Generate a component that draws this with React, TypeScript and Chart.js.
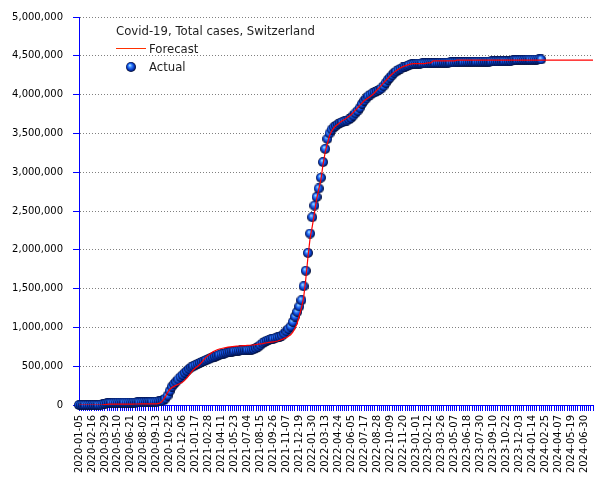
import React, { useEffect, useRef } from 'react';
import { Chart, registerables } from 'chart.js';

Chart.register(...registerables);

const TITLE = 'Covid-19, Total cases, Switzerland';
const SERIES_NAMES = ['Forecast', 'Actual'];

const START_DATE = '2020-01-05';
const WEEK_COUNT = 239;

const TICK_LABELS = [
  '2020-01-05', '2020-02-16', '2020-03-29', '2020-05-10', '2020-06-21', '2020-08-02', '2020-09-13', '2020-10-25',
  '2020-12-06', '2021-01-17', '2021-02-28', '2021-04-11', '2021-05-23', '2021-07-04', '2021-08-15', '2021-09-26',
  '2021-11-07', '2021-12-19', '2022-01-30', '2022-03-13', '2022-04-24', '2022-06-05', '2022-07-17', '2022-08-28',
  '2022-10-09', '2022-11-20', '2023-01-01', '2023-02-12', '2023-03-26', '2023-05-07', '2023-06-18', '2023-07-30',
  '2023-09-10', '2023-10-22', '2023-12-03', '2024-01-14', '2024-02-25', '2024-04-07', '2024-05-19', '2024-06-30',
];

const Y_MIN = 0;
const Y_MAX = 5000000;
const Y_STEP = 500000;

// weekly actual totals, from 2020-01-05
const ACTUAL = [
  0, 0, 0, 0, 0, 0, 0, 0, 0, 300,
  2200, 8000, 15000, 21000, 25000, 27000, 28500, 29500, 30000, 30300,
  30500, 30700, 30900, 31100, 31300, 31600, 32200, 32900, 33800, 34800,
  35900, 37000, 38300, 39500, 40800, 42400, 44000, 46500, 50000, 58000,
  83000, 120000, 180000, 236000, 270000, 300000, 330000, 360000, 386000, 415000,
  440000, 465000, 485000, 500000, 515000, 530000, 543000, 556000, 567000, 578000,
  590000, 602000, 614000, 625000, 636000, 646000, 655000, 663000, 670000, 677000,
  683000, 689000, 694000, 698000, 701000, 703000, 705000, 706000, 708000, 710000,
  713000, 720000, 733000, 750000, 772000, 795000, 815000, 830000, 840000, 848000,
  855000, 862000, 870000, 880000, 895000, 920000, 950000, 980000, 1010000, 1070000,
  1140000, 1200000, 1270000, 1350000, 1530000, 1730000, 1960000, 2210000, 2420000, 2570000,
  2680000, 2790000, 2930000, 3130000, 3300000, 3430000, 3500000, 3550000, 3580000, 3600000,
  3620000, 3635000, 3645000, 3655000, 3665000, 3680000, 3700000, 3730000, 3760000, 3790000,
  3830000, 3880000, 3920000, 3950000, 3980000, 4000000, 4020000, 4030000, 4045000, 4060000,
  4080000, 4110000, 4150000, 4190000, 4220000, 4250000, 4280000, 4300000, 4320000, 4335000,
  4350000, 4360000, 4370000, 4380000, 4390000, 4395000, 4398000, 4400000, 4400000, 4401000,
  4402000, 4403000, 4404000, 4405000, 4406000, 4407000, 4408000, 4409000, 4410000, 4411000,
  4412000, 4413000, 4414000, 4415000, 4416000, 4418000, 4419000, 4420000, 4420000, 4421000,
  4421000, 4422000, 4422000, 4423000, 4423000, 4424000, 4424000, 4425000, 4425000, 4426000,
  4426000, 4427000, 4427000, 4428000, 4428000, 4429000, 4429000, 4430000, 4430000, 4431000,
  4432000, 4440000, 4443000, 4445000, 4446000, 4447000, 4448000, 4449000, 4450000, 4450000,
  4451000, 4452000, 4452000, 4453000, 4453000,
];

// weekly forecast totals, from 2020-01-05
const FORECAST = [
  0, 0, 0, 0, 0, 0, 0, 0, 0, 0,
  0, 2000, 5000, 8000, 10000, 10000, 10500, 10500, 11000, 11000,
  11500, 11500, 12000, 12000, 12500, 12500, 13000, 13000, 13500, 13500,
  14000, 14000, 14500, 14500, 15000, 15000, 15000, 20000, 35000, 65000,
  107000, 160000, 200000, 225000, 240000, 255000, 268000, 280000, 295000, 320000,
  350000, 385000, 420000, 455000, 480000, 500000, 525000, 555000, 590000, 620000,
  645000, 665000, 685000, 700000, 712000, 722000, 728000, 735000, 740000, 745000,
  750000, 753000, 756000, 758000, 760000, 762000, 764000, 766000, 768000, 770000,
  773000, 776000, 780000, 784000, 788000, 792000, 797000, 802000, 806000, 810000,
  814000, 818000, 825000, 835000, 845000, 858000, 870000, 885000, 905000, 940000,
  990000, 1050000, 1150000, 1250000, 1380000, 1620000, 1900000, 2150000, 2300000, 2470000,
  2650000, 2780000, 2900000, 3100000, 3260000, 3370000, 3470000, 3530000, 3570000, 3600000,
  3620000, 3645000, 3665000, 3680000, 3700000, 3720000, 3740000, 3770000, 3800000, 3830000,
  3860000, 3890000, 3920000, 3940000, 3960000, 3980000, 4000000, 4030000, 4060000, 4090000,
  4120000, 4150000, 4180000, 4210000, 4240000, 4265000, 4290000, 4310000, 4330000, 4345000,
  4360000, 4370000, 4380000, 4390000, 4395000, 4400000, 4400000, 4400000, 4400000, 4400000,
  4400000, 4405000, 4410000, 4410000, 4435000, 4435000, 4435000, 4435000, 4435000, 4435000,
  4435000, 4435000, 4435000, 4435000, 4435000, 4445000, 4445000, 4445000, 4445000, 4445000,
  4445000, 4445000, 4445000, 4445000, 4445000, 4445000, 4445000, 4445000, 4445000, 4445000,
  4445000, 4445000, 4445000, 4445000, 4445000, 4445000, 4445000, 4445000, 4445000, 4445000,
  4445000, 4445000, 4445000, 4445000, 4445000, 4445000, 4445000, 4445000, 4445000, 4445000,
  4445000, 4445000, 4445000, 4445000, 4445000, 4445000, 4445000, 4445000, 4445000, 4445000,
  4445000, 4445000, 4445000, 4445000, 4445000, 4445000, 4445000, 4445000, 4445000, 4445000,
  4445000, 4445000, 4445000, 4445000, 4445000, 4445000, 4445000, 4445000, 4445000,
];

function weeklyCategories(): string[] {
  const [y, m, d] = START_DATE.split('-').map(Number);
  const t0 = Date.UTC(y, m - 1, d);
  const out: string[] = [];
  for (let i = 0; i < WEEK_COUNT; i++) {
    out.push(new Date(t0 + i * 7 * 86400000).toISOString().slice(0, 10));
  }
  return out;
}

function makeSphere(size: number): HTMLCanvasElement {
  const c = document.createElement('canvas');
  c.width = size;
  c.height = size;
  const g = c.getContext('2d')!;
  const grad = g.createRadialGradient(size * 0.38, size * 0.32, 0.3, size / 2, size / 2, size / 2);
  grad.addColorStop(0, '#a8e4ff');
  grad.addColorStop(0.3, '#3a86ff');
  grad.addColorStop(0.62, '#0c44d0');
  grad.addColorStop(0.85, '#03207a');
  grad.addColorStop(1, '#000418');
  g.fillStyle = grad;
  g.beginPath();
  g.arc(size / 2, size / 2, size / 2, 0, Math.PI * 2);
  g.fill();
  return c;
}

const FONT = '"DejaVu Sans", sans-serif';

export default function App() {
  const canvasRef = useRef<HTMLCanvasElement | null>(null);

  useEffect(() => {
    const canvas = canvasRef.current;
    if (!canvas) return;
    const categories = weeklyCategories();
    const tickSet = new Set(TICK_LABELS);
    const sphere = makeSphere(10);

    const legendPlugin = {
      id: 'insideLegend',
      afterDraw(chart: any) {
        const ctx = chart.ctx as CanvasRenderingContext2D;
        ctx.save();
        ctx.font = `11.7px ${FONT}`;
        ctx.fillStyle = '#1e1e1e';
        ctx.textAlign = 'left';
        ctx.textBaseline = 'alphabetic';
        ctx.fillText(TITLE, 116, 34.5);
        ctx.strokeStyle = '#ff3000';
        ctx.lineWidth = 1;
        ctx.beginPath();
        ctx.moveTo(116, 48.5);
        ctx.lineTo(146, 48.5);
        ctx.stroke();
        ctx.fillText(SERIES_NAMES[0], 149, 52.7);
        ctx.drawImage(sphere, 131 - sphere.width / 2, 67 - sphere.height / 2);
        ctx.fillText(SERIES_NAMES[1], 149, 71);
        ctx.restore();
      },
    };

    const chart = new Chart(canvas, {
      type: 'line',
      data: {
        labels: categories,
        datasets: [
          {
            label: SERIES_NAMES[0],
            data: FORECAST,
            borderColor: '#ff0000',
            borderWidth: 1.2,
            pointRadius: 0,
            fill: false,
            tension: 0,
            order: 0,
          },
          {
            label: SERIES_NAMES[1],
            data: ACTUAL,
            showLine: false,
            pointStyle: sphere as any,
            pointRadius: 5,
            order: 1,
            clip: false as any,
          },
        ],
      },
      options: {
        responsive: false,
        animation: false,
        events: [],
        layout: { autoPadding: false, padding: { top: 17, right: 12, left: 0, bottom: 0 } },
        plugins: {
          legend: { display: false },
          title: { display: false },
          tooltip: { enabled: false },
        },
        scales: {
          x: {
            type: 'category',
            offset: false,
            grid: {
              display: true,
              drawOnChartArea: false,
              drawTicks: true,
              tickLength: 6,
              color: '#0000ff',
              tickColor: '#0000ff',
              offset: false,
            },
            border: { display: true, color: '#0000ff', width: 1 },
            ticks: {
              autoSkip: false,
              maxRotation: 90,
              minRotation: 90,
              padding: 4,
              color: '#000000',
              font: { family: FONT, size: 10 },
              callback: (_v: any, i: number) => (tickSet.has(categories[i]) ? categories[i] : ''),
            },
            afterFit: (s: any) => {
              s.height = 75;
              s.paddingLeft = 0;
              s.paddingRight = 0;
            },
          },
          y: {
            min: Y_MIN,
            max: Y_MAX,
            grid: {
              color: '#808080',
              tickColor: '#0000ff',
              tickLength: 6,
              drawTicks: true,
            },
            border: { display: true, color: '#0000ff', width: 1, dash: [1, 2] },
            ticks: {
              stepSize: Y_STEP,
              padding: 10,
              color: '#000000',
              font: { family: FONT, size: 10 },
              callback: (v: any) => Number(v).toLocaleString('en-US'),
            },
            afterFit: (s: any) => {
              s.width = 79;
              s.paddingTop = 0;
              s.paddingBottom = 0;
            },
          },
        },
      },
      plugins: [legendPlugin],
    } as any);

    return () => chart.destroy();
  }, []);

  return (
    <div style={{ position: 'absolute', left: 0, top: 0, width: 605, height: 480, background: '#fff' }}>
      <canvas ref={canvasRef} width={605} height={480} style={{ display: 'block', width: 605, height: 480 }} />
    </div>
  );
}
